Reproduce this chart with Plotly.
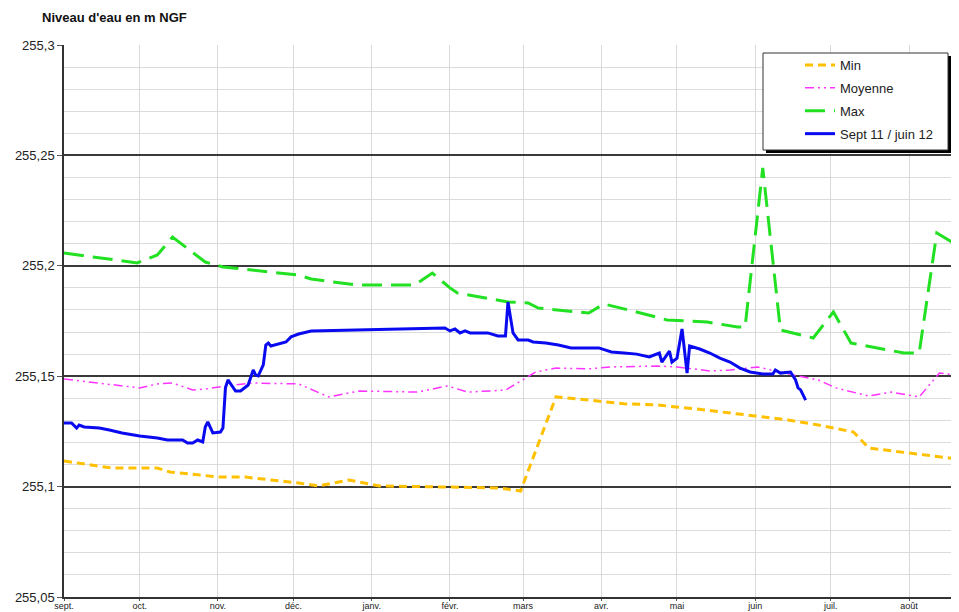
import plotly.graph_objects as go

# ---------------- data ----------------
month_ticks = ["2011-09-01", "2011-10-01", "2011-11-01", "2011-12-01", "2012-01-01", "2012-02-01",
               "2012-03-01", "2012-04-01", "2012-05-01", "2012-06-01", "2012-07-01", "2012-08-01"]
month_labels = ["sept.", "oct.", "nov.", "déc.", "janv.", "févr.", "mars", "avr.", "mai", "juin", "juil.", "août"]

min_dates = ["2011-09-01", "2011-09-20", "2011-10-08", "2011-10-13", "2011-11-02", "2011-11-12", "2011-12-03",
             "2011-12-11", "2011-12-23", "2012-01-04", "2012-01-31", "2012-02-20", "2012-02-29", "2012-03-14",
             "2012-03-26", "2012-04-10", "2012-04-23", "2012-05-09", "2012-06-01", "2012-06-14", "2012-06-26",
             "2012-07-10", "2012-07-16", "2012-08-02", "2012-08-20"]
min_vals = [255.1116, 255.1084, 255.1084, 255.1066, 255.1043, 255.1043, 255.1016, 255.1003, 255.1030, 255.1003,
            255.0998, 255.0994, 255.0980, 255.1406, 255.1393, 255.1375, 255.1370, 255.1351, 255.1320, 255.1302,
            255.1279, 255.1247, 255.1175, 255.1152, 255.1125]

moy_dates = ["2011-09-01", "2011-10-01", "2011-10-08", "2011-10-14", "2011-10-22", "2011-10-27", "2011-11-04",
             "2011-11-15", "2011-12-03", "2011-12-15", "2011-12-27", "2012-01-19", "2012-01-31", "2012-02-08",
             "2012-02-23", "2012-03-06", "2012-03-14", "2012-03-27", "2012-04-05", "2012-04-23", "2012-05-01",
             "2012-05-14", "2012-05-22", "2012-06-02", "2012-06-14", "2012-06-26", "2012-07-03", "2012-07-16",
             "2012-07-25", "2012-08-05", "2012-08-13", "2012-08-20"]
moy_vals = [255.1487, 255.1447, 255.1465, 255.1469, 255.1438, 255.1442, 255.1456, 255.1469, 255.1465, 255.1406,
            255.1433, 255.1428, 255.1456, 255.1428, 255.1437, 255.1519, 255.1537, 255.1533, 255.1542, 255.1546,
            255.1542, 255.1524, 255.1528, 255.1542, 255.1510, 255.1483, 255.1447, 255.1410, 255.1428, 255.1406,
            255.1514, 255.1505]

max_dates = ["2011-09-01", "2011-09-27", "2011-09-30", "2011-10-08", "2011-10-14", "2011-10-27", "2011-11-03",
             "2011-12-03", "2011-12-08", "2011-12-26", "2012-01-18", "2012-01-25", "2012-02-01", "2012-02-04",
             "2012-02-24", "2012-03-03", "2012-03-07", "2012-03-27", "2012-04-02", "2012-04-15", "2012-04-27",
             "2012-05-13", "2012-05-25", "2012-05-28", "2012-06-04", "2012-06-11", "2012-06-24", "2012-07-02",
             "2012-07-09", "2012-07-30", "2012-08-05", "2012-08-12", "2012-08-20"]
max_vals = [255.2058, 255.2017, 255.2013, 255.2049, 255.2130, 255.2017, 255.1995, 255.1958, 255.1940, 255.1913,
            255.1913, 255.1967, 255.1900, 255.1877, 255.1836, 255.1832, 255.1809, 255.1786, 255.1827, 255.1791,
            255.1755, 255.1745, 255.1723, 255.1723, 255.2443, 255.1709, 255.1673, 255.1791, 255.1650, 255.1605,
            255.1605, 255.2149, 255.2094]

cur_dates = ["2011-09-01", "2011-09-04", "2011-09-06", "2011-09-07", "2011-09-09", "2011-09-15", "2011-09-19",
             "2011-09-24", "2011-10-01", "2011-10-08", "2011-10-12", "2011-10-18", "2011-10-20", "2011-10-22",
             "2011-10-24", "2011-10-26", "2011-10-27", "2011-10-28", "2011-10-30", "2011-11-02", "2011-11-03",
             "2011-11-04", "2011-11-05", "2011-11-07", "2011-11-08", "2011-11-10", "2011-11-13", "2011-11-15",
             "2011-11-16", "2011-11-17", "2011-11-19", "2011-11-20", "2011-11-21", "2011-11-22", "2011-11-28",
             "2011-11-30", "2011-12-03", "2011-12-08", "2012-01-01", "2012-01-27", "2012-01-30", "2012-02-01",
             "2012-02-03", "2012-02-05", "2012-02-07", "2012-02-09", "2012-02-16", "2012-02-20", "2012-02-23",
             "2012-02-24", "2012-02-26", "2012-02-28", "2012-03-03", "2012-03-05", "2012-03-10", "2012-03-15",
             "2012-03-20", "2012-03-31", "2012-04-05", "2012-04-10", "2012-04-15", "2012-04-20", "2012-04-24",
             "2012-04-25", "2012-04-28", "2012-04-29", "2012-05-01", "2012-05-03", "2012-05-05", "2012-05-06",
             "2012-05-10", "2012-05-14", "2012-05-18", "2012-05-22", "2012-05-26", "2012-05-30", "2012-06-04",
             "2012-06-08", "2012-06-09", "2012-06-11", "2012-06-15", "2012-06-17", "2012-06-18", "2012-06-19",
             "2012-06-21"]
cur_vals = [255.1288, 255.1288, 255.1265, 255.1279, 255.1270, 255.1265, 255.1256, 255.1243, 255.1229, 255.1220,
            255.1211, 255.1211, 255.1197, 255.1197, 255.1211, 255.1202, 255.1270, 255.1293, 255.1243, 255.1247,
            255.1265, 255.1447, 255.1483, 255.1451, 255.1433, 255.1433, 255.1460, 255.1528, 255.1505, 255.1501,
            255.1551, 255.1641, 255.1650, 255.1637, 255.1655, 255.1678, 255.1691, 255.1705, 255.1710, 255.1718,
            255.1718, 255.1705, 255.1714, 255.1696, 255.1705, 255.1696, 255.1696, 255.1682, 255.1682, 255.1836,
            255.1696, 255.1664, 255.1664, 255.1655, 255.1650, 255.1641, 255.1628, 255.1628, 255.1610, 255.1605,
            255.1600, 255.1587, 255.1605, 255.1564, 255.1614, 255.1564, 255.1582, 255.1714, 255.1514, 255.1637,
            255.1623, 255.1605, 255.1582, 255.1564, 255.1537, 255.1519, 255.1510, 255.1510, 255.1528, 255.1514,
            255.1519, 255.1483, 255.1447, 255.1438, 255.1392]

# ---------------- figure ----------------
# The page body has an 8px default margin: the figure is sized to fit the 959x612 window.
OFF = 8
W, H = 959 - OFF, 612 - OFF
ML, MR, MT, MB = 64 - OFF, 0, 45 - OFF, 15
PW, PH = W - ML - MR, H - MT - MB


def px_x(x):
    """page pixel x -> paper coordinate"""
    return (x - OFF - ML) / PW


def px_y(y):
    """page pixel y -> paper coordinate"""
    return (H - MB - (y - OFF)) / PH


font = "Liberation Sans, Arial, sans-serif"

fig = go.Figure()
fig.add_trace(go.Scatter(x=min_dates, y=min_vals, name="Min", mode="lines", legendgroup="g1",
                         line=dict(color="#FFC000", width=3, dash="8px,5px")))
fig.add_trace(go.Scatter(x=moy_dates, y=moy_vals, name="Moyenne", mode="lines", legendgroup="g2",
                         line=dict(color="#FF33FF", width=1.5, dash="9px,4px,2px,4px,2px,4px")))
fig.add_trace(go.Scatter(x=max_dates, y=max_vals, name="Max", mode="lines", legendgroup="g3",
                         line=dict(color="#22E022", width=3, dash="20px,9px")))
fig.add_trace(go.Scatter(x=cur_dates, y=cur_vals, name="Sept 11 / juin 12", mode="lines", legendgroup="g4",
                         line=dict(color="#0A0AF0", width=3)))

# legend box with shadow
fig.add_shape(type="rect", xref="paper", yref="paper", layer="above",
              x0=px_x(766), x1=px_x(951), y0=px_y(153), y1=px_y(56),
              fillcolor="black", line=dict(width=0))
fig.add_shape(type="rect", xref="paper", yref="paper", layer="above",
              x0=px_x(763), x1=px_x(948), y0=px_y(150), y1=px_y(53),
              fillcolor="white", line=dict(color="#333333", width=1))

fig.add_annotation(text="<b>Niveau d'eau en m NGF</b>", xref="paper", yref="paper",
                   x=px_x(40), y=px_y(18), xanchor="left", yanchor="middle", showarrow=False,
                   font=dict(family=font, size=13, color="#111111"))

fig.update_layout(
    width=W, height=H,
    margin=dict(l=ML, r=MR, t=MT, b=MB, pad=0),
    paper_bgcolor="white", plot_bgcolor="white",
    separators=", ",
    font=dict(family=font, color="#222222"),
    showlegend=True,
    legend=dict(x=px_x(800), y=px_y(50), xanchor="left", yanchor="top",
                bgcolor="rgba(0,0,0,0)", borderwidth=0,
                font=dict(family=font, size=13, color="#222222"),
                traceorder="grouped", tracegroupgap=3),
    xaxis=dict(type="date", range=["2011-09-01", "2012-08-20 19:00"],
               tickmode="array", tickvals=month_ticks, ticktext=month_labels,
               ticks="outside", ticklen=2, tickcolor="#555555", ticklabelstandoff=-3,
               showgrid=True, gridcolor="#d9d9d9", gridwidth=1,
               showline=True, linecolor="#333333", linewidth=1.5,
               tickfont=dict(family=font, size=9, color="#222222"), zeroline=False,
               automargin=False),
    yaxis=dict(range=[255.05, 255.3], tickmode="linear", tick0=255.05, dtick=0.05,
               ticks="outside", ticklen=5, tickcolor="#555555",
               showgrid=True, gridcolor="#3a3a3a", gridwidth=1.5,
               minor=dict(dtick=0.01, showgrid=True, gridcolor="#dcdcdc", gridwidth=1),
               showline=True, linecolor="#333333", linewidth=1.5,
               tickfont=dict(family=font, size=13, color="#222222"), zeroline=False,
               automargin=False),
)

fig.write_html("out.html")
